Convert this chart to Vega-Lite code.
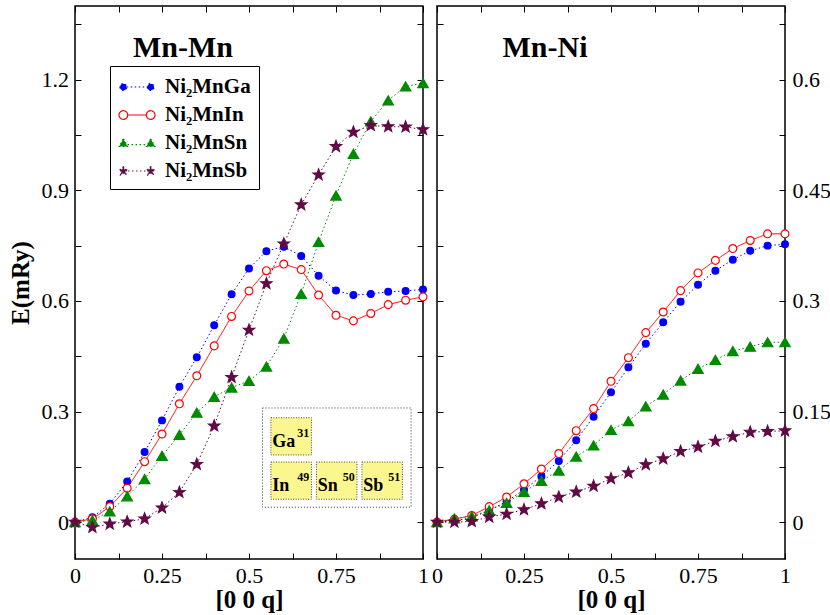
{
  "$schema": "https://vega.github.io/schema/vega-lite/v6.json",
  "padding": {"left": 7, "top": 4, "right": 4, "bottom": 0},
  "autosize": {"type": "pad"},
  "bounds": "flush",
  "spacing": 14,
  "config": {
    "font": "Liberation Serif",
    "view": {"stroke": "black", "strokeWidth": 1.5},
    "axis": {"domain": false, "grid": false, "labelFont": "Liberation Serif", "labelFontSize": 22, "labelColor": "black", "tickColor": "black", "tickWidth": 1, "titleFont": "Liberation Serif", "titleFontSize": 25, "titleFontWeight": "bold", "titleColor": "black", "labelOverlap": false, "labelFlush": false},
    "legend": {"orient": "none", "legendX": 35, "legendY": 60, "padding": 8, "strokeColor": "black", "fillColor": "white", "cornerRadius": 0, "labelFont": "Liberation Serif", "labelFontSize": 21, "labelFontWeight": "bold", "labelColor": "black", "symbolSize": 576, "symbolStrokeWidth": 1.2, "symbolOffset": 6, "labelOffset": 15, "rowPadding": 5},
    "title": {"font": "Liberation Serif", "fontSize": 30, "fontWeight": "bold", "color": "black", "anchor": "middle", "dx": -66, "offset": -57, "baseline": "alphabetic"}
  },
  "datasets": {
    "mnmn": [
      {"q":0,"v":0,"series":"Ni₂MnGa"},{"q":0.05,"v":0.013,"series":"Ni₂MnGa"},{"q":0.1,"v":0.05,"series":"Ni₂MnGa"},{"q":0.15,"v":0.11,"series":"Ni₂MnGa"},{"q":0.2,"v":0.19,"series":"Ni₂MnGa"},{"q":0.25,"v":0.276,"series":"Ni₂MnGa"},{"q":0.3,"v":0.367,"series":"Ni₂MnGa"},{"q":0.35,"v":0.447,"series":"Ni₂MnGa"},{"q":0.4,"v":0.534,"series":"Ni₂MnGa"},{"q":0.45,"v":0.618,"series":"Ni₂MnGa"},{"q":0.5,"v":0.688,"series":"Ni₂MnGa"},{"q":0.55,"v":0.735,"series":"Ni₂MnGa"},{"q":0.6,"v":0.747,"series":"Ni₂MnGa"},{"q":0.65,"v":0.722,"series":"Ni₂MnGa"},{"q":0.7,"v":0.668,"series":"Ni₂MnGa"},{"q":0.75,"v":0.628,"series":"Ni₂MnGa"},{"q":0.8,"v":0.616,"series":"Ni₂MnGa"},{"q":0.85,"v":0.619,"series":"Ni₂MnGa"},{"q":0.9,"v":0.625,"series":"Ni₂MnGa"},{"q":0.95,"v":0.627,"series":"Ni₂MnGa"},{"q":1,"v":0.631,"series":"Ni₂MnGa"},
      {"q":0,"v":0,"series":"Ni₂MnIn"},{"q":0.05,"v":0.009,"series":"Ni₂MnIn"},{"q":0.1,"v":0.042,"series":"Ni₂MnIn"},{"q":0.15,"v":0.092,"series":"Ni₂MnIn"},{"q":0.2,"v":0.164,"series":"Ni₂MnIn"},{"q":0.25,"v":0.239,"series":"Ni₂MnIn"},{"q":0.3,"v":0.321,"series":"Ni₂MnIn"},{"q":0.35,"v":0.397,"series":"Ni₂MnIn"},{"q":0.4,"v":0.478,"series":"Ni₂MnIn"},{"q":0.45,"v":0.558,"series":"Ni₂MnIn"},{"q":0.5,"v":0.627,"series":"Ni₂MnIn"},{"q":0.55,"v":0.682,"series":"Ni₂MnIn"},{"q":0.6,"v":0.7,"series":"Ni₂MnIn"},{"q":0.65,"v":0.685,"series":"Ni₂MnIn"},{"q":0.7,"v":0.616,"series":"Ni₂MnIn"},{"q":0.75,"v":0.561,"series":"Ni₂MnIn"},{"q":0.8,"v":0.546,"series":"Ni₂MnIn"},{"q":0.85,"v":0.566,"series":"Ni₂MnIn"},{"q":0.9,"v":0.59,"series":"Ni₂MnIn"},{"q":0.95,"v":0.602,"series":"Ni₂MnIn"},{"q":1,"v":0.611,"series":"Ni₂MnIn"},
      {"q":0,"v":0,"series":"Ni₂MnSn"},{"q":0.05,"v":0.005,"series":"Ni₂MnSn"},{"q":0.1,"v":0.029,"series":"Ni₂MnSn"},{"q":0.15,"v":0.07,"series":"Ni₂MnSn"},{"q":0.2,"v":0.117,"series":"Ni₂MnSn"},{"q":0.25,"v":0.18,"series":"Ni₂MnSn"},{"q":0.3,"v":0.237,"series":"Ni₂MnSn"},{"q":0.35,"v":0.297,"series":"Ni₂MnSn"},{"q":0.4,"v":0.34,"series":"Ni₂MnSn"},{"q":0.45,"v":0.365,"series":"Ni₂MnSn"},{"q":0.5,"v":0.383,"series":"Ni₂MnSn"},{"q":0.55,"v":0.422,"series":"Ni₂MnSn"},{"q":0.6,"v":0.498,"series":"Ni₂MnSn"},{"q":0.65,"v":0.619,"series":"Ni₂MnSn"},{"q":0.7,"v":0.76,"series":"Ni₂MnSn"},{"q":0.75,"v":0.886,"series":"Ni₂MnSn"},{"q":0.8,"v":0.999,"series":"Ni₂MnSn"},{"q":0.85,"v":1.087,"series":"Ni₂MnSn"},{"q":0.9,"v":1.144,"series":"Ni₂MnSn"},{"q":0.95,"v":1.182,"series":"Ni₂MnSn"},{"q":1,"v":1.191,"series":"Ni₂MnSn"},
      {"q":0,"v":0,"series":"Ni₂MnSb"},{"q":0.05,"v":-0.014,"series":"Ni₂MnSb"},{"q":0.1,"v":-0.005,"series":"Ni₂MnSb"},{"q":0.15,"v":0.001,"series":"Ni₂MnSb"},{"q":0.2,"v":0.009,"series":"Ni₂MnSb"},{"q":0.25,"v":0.039,"series":"Ni₂MnSb"},{"q":0.3,"v":0.081,"series":"Ni₂MnSb"},{"q":0.35,"v":0.157,"series":"Ni₂MnSb"},{"q":0.4,"v":0.261,"series":"Ni₂MnSb"},{"q":0.45,"v":0.393,"series":"Ni₂MnSb"},{"q":0.5,"v":0.521,"series":"Ni₂MnSb"},{"q":0.55,"v":0.647,"series":"Ni₂MnSb"},{"q":0.6,"v":0.755,"series":"Ni₂MnSb"},{"q":0.65,"v":0.861,"series":"Ni₂MnSb"},{"q":0.7,"v":0.942,"series":"Ni₂MnSb"},{"q":0.75,"v":1.019,"series":"Ni₂MnSb"},{"q":0.8,"v":1.058,"series":"Ni₂MnSb"},{"q":0.85,"v":1.076,"series":"Ni₂MnSb"},{"q":0.9,"v":1.073,"series":"Ni₂MnSb"},{"q":0.95,"v":1.072,"series":"Ni₂MnSb"},{"q":1,"v":1.065,"series":"Ni₂MnSb"}
    ],
    "mnni": [
      {"q":0,"v":0,"series":"Ni₂MnGa"},{"q":0.05,"v":0.002,"series":"Ni₂MnGa"},{"q":0.1,"v":0.006,"series":"Ni₂MnGa"},{"q":0.15,"v":0.016,"series":"Ni₂MnGa"},{"q":0.2,"v":0.028,"series":"Ni₂MnGa"},{"q":0.25,"v":0.044,"series":"Ni₂MnGa"},{"q":0.3,"v":0.062,"series":"Ni₂MnGa"},{"q":0.35,"v":0.083,"series":"Ni₂MnGa"},{"q":0.4,"v":0.111,"series":"Ni₂MnGa"},{"q":0.45,"v":0.143,"series":"Ni₂MnGa"},{"q":0.5,"v":0.176,"series":"Ni₂MnGa"},{"q":0.55,"v":0.21,"series":"Ni₂MnGa"},{"q":0.6,"v":0.242,"series":"Ni₂MnGa"},{"q":0.65,"v":0.271,"series":"Ni₂MnGa"},{"q":0.7,"v":0.299,"series":"Ni₂MnGa"},{"q":0.75,"v":0.322,"series":"Ni₂MnGa"},{"q":0.8,"v":0.341,"series":"Ni₂MnGa"},{"q":0.85,"v":0.356,"series":"Ni₂MnGa"},{"q":0.9,"v":0.368,"series":"Ni₂MnGa"},{"q":0.95,"v":0.375,"series":"Ni₂MnGa"},{"q":1,"v":0.377,"series":"Ni₂MnGa"},
      {"q":0,"v":0,"series":"Ni₂MnIn"},{"q":0.05,"v":0.004,"series":"Ni₂MnIn"},{"q":0.1,"v":0.009,"series":"Ni₂MnIn"},{"q":0.15,"v":0.021,"series":"Ni₂MnIn"},{"q":0.2,"v":0.034,"series":"Ni₂MnIn"},{"q":0.25,"v":0.052,"series":"Ni₂MnIn"},{"q":0.3,"v":0.072,"series":"Ni₂MnIn"},{"q":0.35,"v":0.093,"series":"Ni₂MnIn"},{"q":0.4,"v":0.124,"series":"Ni₂MnIn"},{"q":0.45,"v":0.154,"series":"Ni₂MnIn"},{"q":0.5,"v":0.191,"series":"Ni₂MnIn"},{"q":0.55,"v":0.223,"series":"Ni₂MnIn"},{"q":0.6,"v":0.257,"series":"Ni₂MnIn"},{"q":0.65,"v":0.285,"series":"Ni₂MnIn"},{"q":0.7,"v":0.314,"series":"Ni₂MnIn"},{"q":0.75,"v":0.338,"series":"Ni₂MnIn"},{"q":0.8,"v":0.355,"series":"Ni₂MnIn"},{"q":0.85,"v":0.371,"series":"Ni₂MnIn"},{"q":0.9,"v":0.382,"series":"Ni₂MnIn"},{"q":0.95,"v":0.391,"series":"Ni₂MnIn"},{"q":1,"v":0.391,"series":"Ni₂MnIn"},
      {"q":0,"v":0,"series":"Ni₂MnSn"},{"q":0.05,"v":0.005,"series":"Ni₂MnSn"},{"q":0.1,"v":0.008,"series":"Ni₂MnSn"},{"q":0.15,"v":0.016,"series":"Ni₂MnSn"},{"q":0.2,"v":0.026,"series":"Ni₂MnSn"},{"q":0.25,"v":0.041,"series":"Ni₂MnSn"},{"q":0.3,"v":0.056,"series":"Ni₂MnSn"},{"q":0.35,"v":0.07,"series":"Ni₂MnSn"},{"q":0.4,"v":0.089,"series":"Ni₂MnSn"},{"q":0.45,"v":0.104,"series":"Ni₂MnSn"},{"q":0.5,"v":0.125,"series":"Ni₂MnSn"},{"q":0.55,"v":0.137,"series":"Ni₂MnSn"},{"q":0.6,"v":0.157,"series":"Ni₂MnSn"},{"q":0.65,"v":0.173,"series":"Ni₂MnSn"},{"q":0.7,"v":0.192,"series":"Ni₂MnSn"},{"q":0.75,"v":0.208,"series":"Ni₂MnSn"},{"q":0.8,"v":0.22,"series":"Ni₂MnSn"},{"q":0.85,"v":0.232,"series":"Ni₂MnSn"},{"q":0.9,"v":0.238,"series":"Ni₂MnSn"},{"q":0.95,"v":0.244,"series":"Ni₂MnSn"},{"q":1,"v":0.244,"series":"Ni₂MnSn"},
      {"q":0,"v":0,"series":"Ni₂MnSb"},{"q":0.05,"v":0,"series":"Ni₂MnSb"},{"q":0.1,"v":0.001,"series":"Ni₂MnSb"},{"q":0.15,"v":0.007,"series":"Ni₂MnSb"},{"q":0.2,"v":0.011,"series":"Ni₂MnSb"},{"q":0.25,"v":0.017,"series":"Ni₂MnSb"},{"q":0.3,"v":0.025,"series":"Ni₂MnSb"},{"q":0.35,"v":0.034,"series":"Ni₂MnSb"},{"q":0.4,"v":0.041,"series":"Ni₂MnSb"},{"q":0.45,"v":0.049,"series":"Ni₂MnSb"},{"q":0.5,"v":0.059,"series":"Ni₂MnSb"},{"q":0.55,"v":0.067,"series":"Ni₂MnSb"},{"q":0.6,"v":0.078,"series":"Ni₂MnSb"},{"q":0.65,"v":0.086,"series":"Ni₂MnSb"},{"q":0.7,"v":0.096,"series":"Ni₂MnSb"},{"q":0.75,"v":0.102,"series":"Ni₂MnSb"},{"q":0.8,"v":0.11,"series":"Ni₂MnSb"},{"q":0.85,"v":0.116,"series":"Ni₂MnSb"},{"q":0.9,"v":0.122,"series":"Ni₂MnSb"},{"q":0.95,"v":0.123,"series":"Ni₂MnSb"},{"q":1,"v":0.124,"series":"Ni₂MnSb"}
    ],
    "elements": [
      {"el":"Ga","Z":31,"group":13,"period":4},
      {"el":"In","Z":49,"group":13,"period":5},
      {"el":"Sn","Z":50,"group":14,"period":5},
      {"el":"Sb","Z":51,"group":15,"period":5}
    ]
  },
  "hconcat": [
    {
      "width": 348, "height": 553,
      "title": {"text": "Mn-Mn"},
      "resolve": {"scale": {"x": "independent", "y": "independent"}, "axis": {"x": "independent", "y": "independent"}},
      "layer": [
        {
          "mark": {"type": "rule", "color": "#c09494", "strokeDash": [5, 4], "strokeWidth": 1},
          "encoding": {"y": {"datum": 0, "type": "quantitative", "scale": {"domain": [-0.1, 1.4], "nice": false, "zero": false}, "axis": null}}
        },
        {
          "data": {"name": "mnmn"},
          "mark": {"type": "line", "strokeWidth": 1},
          "encoding": {
            "x": {"field": "q", "type": "quantitative", "scale": {"domain": [0, 1], "nice": false, "zero": false},
                  "axis": {"orient": "bottom", "values": [0,0.125,0.25,0.375,0.5,0.625,0.75,0.875,1], "format": ".2~f", "labelExpr": "abs(datum.value*4 - round(datum.value*4)) < 0.001 ? datum.label : ''", "tickSize": -6, "labelPadding": 12, "title": "[0 0 q]", "titlePadding": 1}},
            "y": {"field": "v", "type": "quantitative", "scale": {"domain": [-0.1, 1.4], "nice": false, "zero": false},
                  "axis": {"orient": "left", "values": [0,0.15,0.3,0.45,0.6,0.75,0.9,1.05,1.2,1.35], "format": ".2~f", "labelExpr": "abs(datum.value/0.3 - round(datum.value/0.3)) < 0.001 ? datum.label : ''", "tickSize": -6, "labelPadding": 12.4, "title": "E(mRy)", "titlePadding": 8}},
            "detail": {"field": "series"},
            "stroke": {"condition": [{"test": "datum.series === 'Ni₂MnIn'", "value": "#ff0000"}, {"test": "datum.series === 'Ni₂MnSn'", "value": "#008a00"}, {"test": "datum.series === 'Ni₂MnSb'", "value": "#620a45"}], "value": "#0000ff"},
            "strokeDash": {"condition": [{"test": "datum.series === 'Ni₂MnIn'", "value": [1, 0]}], "value": [1.5, 2.5]}
          }
        },
        {
          "data": {"name": "mnmn"},
          "mark": {"type": "point", "opacity": 1, "strokeWidth": 1.2},
          "encoding": {
            "x": {"field": "q", "type": "quantitative", "scale": {"domain": [0, 1], "nice": false, "zero": false}, "axis": null},
            "y": {"field": "v", "type": "quantitative", "scale": {"domain": [-0.1, 1.4], "nice": false, "zero": false}, "axis": null},
            "shape": {"condition": [{"test": "datum.series === 'Ni₂MnSn'", "value": "triangle-up"}, {"test": "datum.series === 'Ni₂MnSb'", "value": "M0,-1L0.2469,-0.3398L0.9511,-0.309L0.3995,0.1298L0.5878,0.809L0,0.42L-0.5878,0.809L-0.3995,0.1298L-0.9511,-0.309L-0.2469,-0.3398Z"}], "value": "circle"},
            "size": {"condition": [{"test": "datum.series === 'Ni₂MnIn'", "value": 62}, {"test": "datum.series === 'Ni₂MnSn'", "value": 110}, {"test": "datum.series === 'Ni₂MnSb'", "value": 140}], "value": 46},
            "fill": {"condition": [{"test": "datum.series === 'Ni₂MnIn'", "value": "white"}, {"test": "datum.series === 'Ni₂MnSn'", "value": "#008a00"}, {"test": "datum.series === 'Ni₂MnSb'", "value": "#620a45"}], "value": "#0000ff"},
            "stroke": {"condition": [{"test": "datum.series === 'Ni₂MnIn'", "value": "#ff0000"}, {"test": "datum.series === 'Ni₂MnSn'", "value": "#008a00"}, {"test": "datum.series === 'Ni₂MnSb'", "value": "#620a45"}], "value": "#0000ff"}
          }
        },
        {
          "data": {"name": "elements"},
          "layer": [
            {
              "transform": [
                {"aggregate": [{"op": "min", "field": "group", "as": "g0"}, {"op": "max", "field": "group", "as": "g1"}, {"op": "min", "field": "period", "as": "p0"}, {"op": "max", "field": "period", "as": "p1"}]},
                {"calculate": "datum.g0 - 0.63", "as": "x0"}, {"calculate": "datum.g1 + 0.635", "as": "x1"},
                {"calculate": "datum.p0 - 0.64", "as": "y0"}, {"calculate": "datum.p1 + 0.6", "as": "y1"}
              ],
              "mark": {"type": "rect", "fill": null, "fillOpacity": 0, "stroke": "#333333", "strokeWidth": 1, "strokeDash": [1, 2]},
              "encoding": {
                "x": {"field": "x0", "type": "quantitative", "scale": {"domain": [8.249, 15.897], "nice": false, "zero": false}, "axis": null},
                "x2": {"field": "x1"},
                "y": {"field": "y0", "type": "quantitative", "scale": {"domain": [-5.714, 6.769], "nice": false, "zero": false, "reverse": true}, "axis": null},
                "y2": {"field": "y1"}
              }
            },
            {
              "transform": [
                {"calculate": "datum.group - 0.445", "as": "x0"}, {"calculate": "datum.group + 0.445", "as": "x1"},
                {"calculate": "datum.period - 0.42", "as": "y0"}, {"calculate": "datum.period + 0.42", "as": "y1"}
              ],
              "mark": {"type": "rect", "fill": "#fbf78e", "stroke": "#444444", "strokeWidth": 1, "strokeDash": [1, 1.5]},
              "encoding": {
                "x": {"field": "x0", "type": "quantitative"},
                "x2": {"field": "x1"},
                "y": {"field": "y0", "type": "quantitative"},
                "y2": {"field": "y1"}
              }
            },
            {
              "mark": {"type": "text", "align": "left", "baseline": "alphabetic", "dx": -19, "dy": 10.6, "font": "Liberation Serif", "fontSize": 18, "fontWeight": "bold", "color": "black"},
              "encoding": {
                "x": {"field": "group", "type": "quantitative"},
                "y": {"field": "period", "type": "quantitative"},
                "text": {"field": "el"}
              }
            },
            {
              "mark": {"type": "text", "align": "right", "baseline": "alphabetic", "dx": 18, "dy": 0.5, "font": "Liberation Serif", "fontSize": 12, "fontWeight": "bold", "color": "black"},
              "encoding": {
                "x": {"field": "group", "type": "quantitative"},
                "y": {"field": "period", "type": "quantitative"},
                "text": {"field": "Z"}
              }
            }
          ]
        },
        {
          "data": {"name": "mnmn"},
          "transform": [{"filter": "datum.q < -10"}],
          "mark": {"type": "point", "opacity": 1, "filled": true},
          "encoding": {
            "x": {"field": "q", "type": "quantitative", "scale": {"domain": [0, 1], "nice": false, "zero": false},
                  "axis": {"orient": "top", "values": [0,0.125,0.25,0.375,0.5,0.625,0.75,0.875,1], "labels": false, "tickSize": -6, "title": null}},
            "y": {"field": "v", "type": "quantitative", "scale": {"domain": [-0.1, 1.4], "nice": false, "zero": false},
                  "axis": {"orient": "right", "values": [0,0.15,0.3,0.45,0.6,0.75,0.9,1.05,1.2,1.35], "labels": false, "tickSize": -6, "title": null}},
            "shape": {"field": "series", "type": "nominal", "title": null, "scale": {"domain": ["Ni₂MnGa", "Ni₂MnIn", "Ni₂MnSn", "Ni₂MnSb"], "range": [
              "M-1.4175,0a0.28,0.28 0 1,0 0.56,0a0.28,0.28 0 1,0 -0.56,0ZM0.8575,0a0.28,0.28 0 1,0 0.56,0a0.28,0.28 0 1,0 -0.56,0ZM-0.8575,0L0.8575,0",
              "M-1.4975,0a0.36,0.36 0 1,0 0.72,0a0.36,0.36 0 1,0 -0.72,0ZM0.7775,0a0.36,0.36 0 1,0 0.72,0a0.36,0.36 0 1,0 -0.72,0ZM-0.7775,0L0.7775,0",
              "M-1.1375,-0.35L-0.7875,0.29L-1.4875,0.29ZM1.1375,-0.35L1.4875,0.29L0.7875,0.29ZM-0.7875,0.14L0.7875,0.14",
              "M-1.1375,-0.3967L-1.0415,-0.1322L-0.7602,-0.1226L-0.9822,0.0505L-0.9044,0.321L-1.1375,0.1633L-1.3706,0.321L-1.2928,0.0505L-1.5148,-0.1226L-1.2335,-0.1322ZM1.1375,-0.3967L1.2335,-0.1322L1.5148,-0.1226L1.2928,0.0505L1.3706,0.321L1.1375,0.1633L0.9044,0.321L0.9822,0.0505L0.7602,-0.1226L1.0415,-0.1322ZM-0.76,0L0.76,0"
            ]}},
            "fill": {"field": "series", "type": "nominal", "title": null, "scale": {"domain": ["Ni₂MnGa", "Ni₂MnIn", "Ni₂MnSn", "Ni₂MnSb"], "range": ["#0000ff", "white", "#008a00", "#620a45"]}},
            "stroke": {"field": "series", "type": "nominal", "title": null, "scale": {"domain": ["Ni₂MnGa", "Ni₂MnIn", "Ni₂MnSn", "Ni₂MnSb"], "range": ["#0000ff", "#ff0000", "#008a00", "#620a45"]}},
            "strokeDash": {"field": "series", "type": "nominal", "title": null, "scale": {"domain": ["Ni₂MnGa", "Ni₂MnIn", "Ni₂MnSn", "Ni₂MnSb"], "range": [[1.5, 2.5], [1, 0], [1.5, 2.5], [1.5, 2.5]]}}
          }
        }
      ]
    },
    {
      "width": 348, "height": 553,
      "title": {"text": "Mn-Ni"},
      "resolve": {"scale": {"x": "independent", "y": "independent"}, "axis": {"x": "independent", "y": "independent"}},
      "layer": [
        {
          "mark": {"type": "rule", "color": "#c09494", "strokeDash": [5, 4], "strokeWidth": 1},
          "encoding": {"y": {"datum": 0, "type": "quantitative", "scale": {"domain": [-0.05, 0.7], "nice": false, "zero": false}, "axis": null}}
        },
        {
          "data": {"name": "mnni"},
          "mark": {"type": "line", "strokeWidth": 1},
          "encoding": {
            "x": {"field": "q", "type": "quantitative", "scale": {"domain": [0, 1], "nice": false, "zero": false},
                  "axis": {"orient": "bottom", "values": [0,0.125,0.25,0.375,0.5,0.625,0.75,0.875,1], "format": ".2~f", "labelExpr": "abs(datum.value*4 - round(datum.value*4)) < 0.001 ? datum.label : ''", "tickSize": -6, "labelPadding": 12, "title": "[0 0 q]", "titlePadding": 1}},
            "y": {"field": "v", "type": "quantitative", "scale": {"domain": [-0.05, 0.7], "nice": false, "zero": false},
                  "axis": {"orient": "right", "values": [0,0.075,0.15,0.225,0.3,0.375,0.45,0.525,0.6,0.675], "format": ".2~f", "labelExpr": "abs(datum.value/0.15 - round(datum.value/0.15)) < 0.001 ? datum.label : ''", "tickSize": -6, "labelPadding": 13, "title": null}},
            "detail": {"field": "series"},
            "stroke": {"condition": [{"test": "datum.series === 'Ni₂MnIn'", "value": "#ff0000"}, {"test": "datum.series === 'Ni₂MnSn'", "value": "#008a00"}, {"test": "datum.series === 'Ni₂MnSb'", "value": "#620a45"}], "value": "#0000ff"},
            "strokeDash": {"condition": [{"test": "datum.series === 'Ni₂MnIn'", "value": [1, 0]}], "value": [1.5, 2.5]}
          }
        },
        {
          "data": {"name": "mnni"},
          "mark": {"type": "point", "opacity": 1, "strokeWidth": 1.2},
          "encoding": {
            "x": {"field": "q", "type": "quantitative", "scale": {"domain": [0, 1], "nice": false, "zero": false}, "axis": null},
            "y": {"field": "v", "type": "quantitative", "scale": {"domain": [-0.05, 0.7], "nice": false, "zero": false}, "axis": null},
            "shape": {"condition": [{"test": "datum.series === 'Ni₂MnSn'", "value": "triangle-up"}, {"test": "datum.series === 'Ni₂MnSb'", "value": "M0,-1L0.2469,-0.3398L0.9511,-0.309L0.3995,0.1298L0.5878,0.809L0,0.42L-0.5878,0.809L-0.3995,0.1298L-0.9511,-0.309L-0.2469,-0.3398Z"}], "value": "circle"},
            "size": {"condition": [{"test": "datum.series === 'Ni₂MnIn'", "value": 62}, {"test": "datum.series === 'Ni₂MnSn'", "value": 110}, {"test": "datum.series === 'Ni₂MnSb'", "value": 140}], "value": 46},
            "fill": {"condition": [{"test": "datum.series === 'Ni₂MnIn'", "value": "white"}, {"test": "datum.series === 'Ni₂MnSn'", "value": "#008a00"}, {"test": "datum.series === 'Ni₂MnSb'", "value": "#620a45"}], "value": "#0000ff"},
            "stroke": {"condition": [{"test": "datum.series === 'Ni₂MnIn'", "value": "#ff0000"}, {"test": "datum.series === 'Ni₂MnSn'", "value": "#008a00"}, {"test": "datum.series === 'Ni₂MnSb'", "value": "#620a45"}], "value": "#0000ff"}
          }
        },
        {
          "data": {"name": "mnni"},
          "transform": [{"filter": "datum.q < -10"}],
          "mark": {"type": "point", "opacity": 1, "filled": true},
          "encoding": {
            "x": {"field": "q", "type": "quantitative", "scale": {"domain": [0, 1], "nice": false, "zero": false},
                  "axis": {"orient": "top", "values": [0,0.125,0.25,0.375,0.5,0.625,0.75,0.875,1], "labels": false, "tickSize": -6, "title": null}},
            "y": {"field": "v", "type": "quantitative", "scale": {"domain": [-0.05, 0.7], "nice": false, "zero": false},
                  "axis": {"orient": "left", "values": [0,0.075,0.15,0.225,0.3,0.375,0.45,0.525,0.6,0.675], "labels": false, "tickSize": -6, "title": null}},
            "shape": {"field": "series", "type": "nominal", "title": null, "scale": {"domain": ["Ni₂MnGa", "Ni₂MnIn", "Ni₂MnSn", "Ni₂MnSb"], "range": [
              "M-1.4175,0a0.28,0.28 0 1,0 0.56,0a0.28,0.28 0 1,0 -0.56,0ZM0.8575,0a0.28,0.28 0 1,0 0.56,0a0.28,0.28 0 1,0 -0.56,0ZM-0.8575,0L0.8575,0",
              "M-1.4975,0a0.36,0.36 0 1,0 0.72,0a0.36,0.36 0 1,0 -0.72,0ZM0.7775,0a0.36,0.36 0 1,0 0.72,0a0.36,0.36 0 1,0 -0.72,0ZM-0.7775,0L0.7775,0",
              "M-1.1375,-0.35L-0.7875,0.29L-1.4875,0.29ZM1.1375,-0.35L1.4875,0.29L0.7875,0.29ZM-0.7875,0.14L0.7875,0.14",
              "M-1.1375,-0.3967L-1.0415,-0.1322L-0.7602,-0.1226L-0.9822,0.0505L-0.9044,0.321L-1.1375,0.1633L-1.3706,0.321L-1.2928,0.0505L-1.5148,-0.1226L-1.2335,-0.1322ZM1.1375,-0.3967L1.2335,-0.1322L1.5148,-0.1226L1.2928,0.0505L1.3706,0.321L1.1375,0.1633L0.9044,0.321L0.9822,0.0505L0.7602,-0.1226L1.0415,-0.1322ZM-0.76,0L0.76,0"
            ]}},
            "fill": {"field": "series", "type": "nominal", "title": null, "scale": {"domain": ["Ni₂MnGa", "Ni₂MnIn", "Ni₂MnSn", "Ni₂MnSb"], "range": ["#0000ff", "white", "#008a00", "#620a45"]}},
            "stroke": {"field": "series", "type": "nominal", "title": null, "scale": {"domain": ["Ni₂MnGa", "Ni₂MnIn", "Ni₂MnSn", "Ni₂MnSb"], "range": ["#0000ff", "#ff0000", "#008a00", "#620a45"]}},
            "strokeDash": {"field": "series", "type": "nominal", "title": null, "scale": {"domain": ["Ni₂MnGa", "Ni₂MnIn", "Ni₂MnSn", "Ni₂MnSb"], "range": [[1.5, 2.5], [1, 0], [1.5, 2.5], [1.5, 2.5]]}}
          }
        }
      ]
    }
  ]
}
